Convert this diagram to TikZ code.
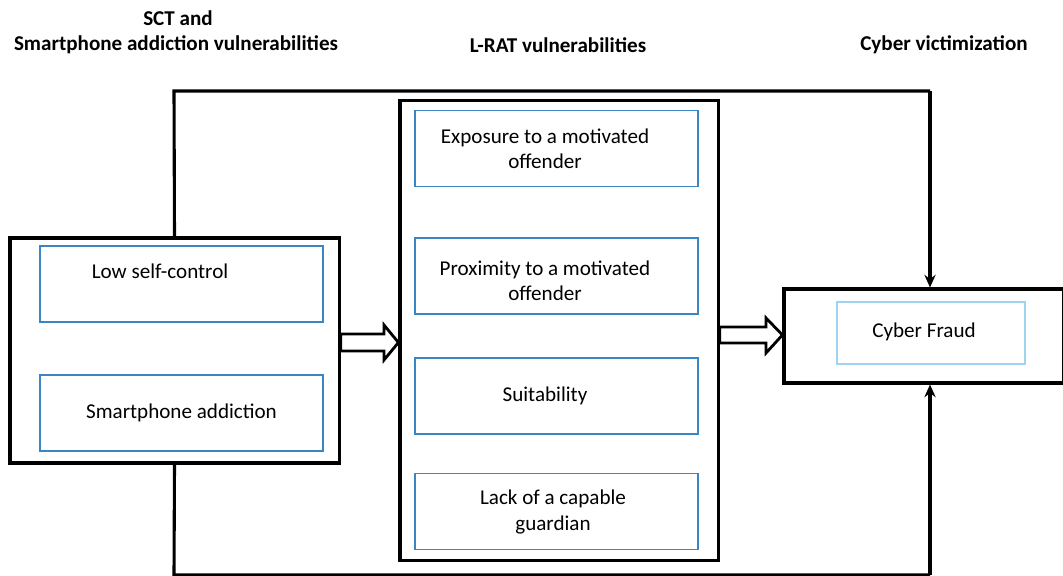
\documentclass[tikz,border=0pt]{standalone}
\usepackage{fontspec}
\setmainfont{Carlito}
\usetikzlibrary{arrows.meta}
\definecolor{boxblue}{HTML}{3A86C4}
\definecolor{paleblue}{HTML}{9ED4F2}
\tikzset{>={Stealth[length=9pt,width=8pt,inset=3pt]}}

\begin{document}
\begin{tikzpicture}[x=0.025cm,y=-0.025cm,font=\fontsize{15}{18}\selectfont]
  % frame = outer black box, inbox = blue inner box, head = column title
  \tikzstyle{frame}=[draw=black, line width=2.2pt, inner sep=0pt]
  \tikzstyle{inbox}=[draw=boxblue, line width=0.9pt, inner sep=0pt, minimum width=7.075cm, minimum height=1.9cm]
  \tikzstyle{txt}=[align=center, inner sep=0pt]
  \tikzstyle{head}=[font=\fontsize{15}{18}\selectfont\bfseries, inner sep=0pt]
  \tikzstyle{fat}=[draw=black, line width=2pt, fill=white, line join=miter]
  \useasboundingbox (0,0) rectangle (1063,576);

  % column titles
  \node[head] (h1a) at (178,18) {SCT and};
  \node[head] (h1b) at (176,45) {Smartphone addiction vulnerabilities};
  \node[head] (h2) at (558,45) {L-RAT vulnerabilities};
  \node[head] (h3) at (944,45) {Cyber victimization};

  % left column
  \node[frame, minimum width=8.225cm, minimum height=5.625cm] (lbox) at (174.5,350.5) {};
  \node[inbox] (lowsc) at (181.5,284) {};
  \node[txt] (lowsc-t) at (160,271) {Low self-control};
  \node[inbox] (smart) at (181.5,413) {};
  \node[txt] (smart-t) at (181.5,413) {Smartphone addiction};

  % middle column
  \node[frame, minimum width=7.95cm, minimum height=11.475cm] (mbox) at (559,330.5) {};
  \node[inbox] (expo) at (556.5,148.5) {};
  \node[txt] (expo-t) at (545,149) {Exposure to a motivated\\offender};
  \node[inbox] (prox) at (556.5,276) {};
  \node[txt] (prox-t) at (545,281) {Proximity to a motivated\\offender};
  \node[inbox] (suit) at (556.5,396) {};
  \node[txt] (suit-t) at (545,396) {Suitability};
  \node[inbox] (lack) at (556.5,511.5) {};
  \node[txt] (lack-t) at (553,512) {Lack of a capable\\guardian};

  % right column
  \node[frame, minimum width=6.975cm, minimum height=2.35cm] (rbox) at (923.5,336) {};
  \node[draw=paleblue, line width=0.9pt, minimum width=4.7cm, minimum height=1.55cm, inner sep=0pt] (fraud) at (931,333) {};
  \node[txt] (fraud-t) at (924,332) {Cyber Fraud};

  % hollow arrows
  \draw[fat] (lbox.east |- 0,334) -- (384,334) -- (384,325) -- (mbox.west |- 0,342.5)
    -- (384,360) -- (384,351) -- (lbox.east |- 0,351) -- cycle;
  \draw[fat] (mbox.east |- 0,327) -- (766,327) -- (766,318) -- (rbox.west |- 0,335)
    -- (766,353) -- (766,343) -- (mbox.east |- 0,343) -- cycle;

  % direct paths
  \coordinate (tl) at (174,91);
  \coordinate (tr) at (930,91);
  \coordinate (bl) at (174,575);
  \coordinate (br) at (930,575);
  \draw[line width=2.2pt] (lbox.north) -- (tl) -- (tr);
  \draw[line width=2.2pt, ->] (tr) -- (tr |- rbox.north);
  \draw[line width=2.2pt] (lbox.south) -- (bl) -- (br);
  \draw[line width=2.2pt, ->] (br) -- (br |- rbox.south);
\end{tikzpicture}
\end{document}
